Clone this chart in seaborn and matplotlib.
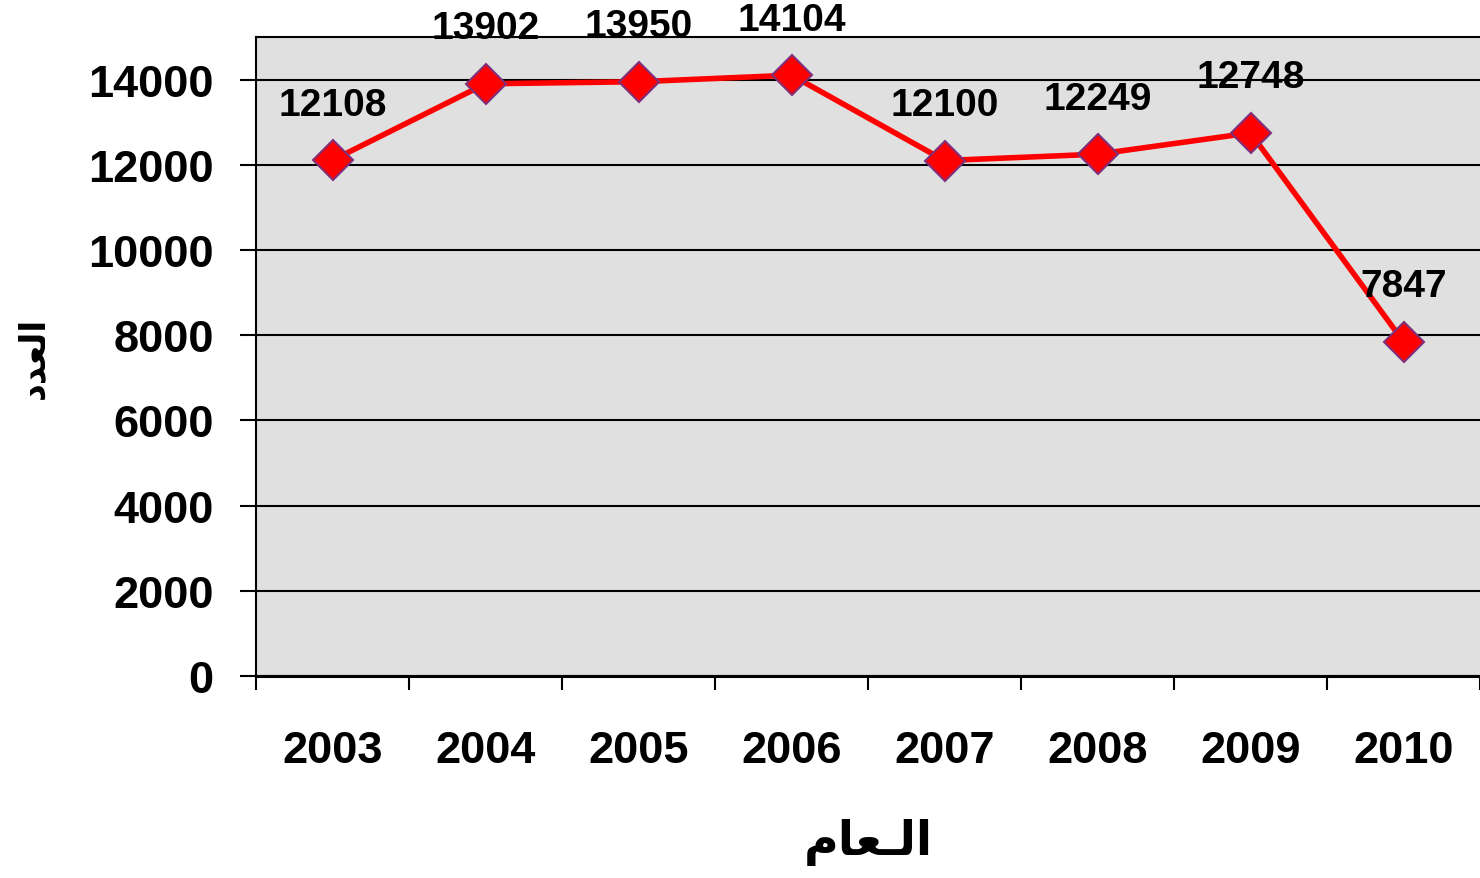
import matplotlib
matplotlib.use("Agg")
import matplotlib.pyplot as plt
import seaborn as sns
import pandas as pd
from matplotlib.ticker import FixedLocator, NullFormatter

years = ['2003', '2004', '2005', '2006', '2007', '2008', '2009', '2010']
counts = [12108, 13902, 13950, 14104, 12100, 12249, 12748, 7847]
y_ticks = [0, 2000, 4000, 6000, 8000, 10000, 12000, 14000]
x_title = 'ﻡﺎﻌـﻟﺍ'   # العـام (shaped, visual order)
y_title = 'ﺩﺪﻌﻟﺍ'    # العدد (shaped, visual order)

sns.set_style("white")
plt.rcParams['font.family'] = ['Liberation Sans', 'DejaVu Sans']
plt.rcParams['font.weight'] = 'bold'
plt.rcParams['text.color'] = 'black'
plt.rcParams['xtick.color'] = 'black'
plt.rcParams['ytick.color'] = 'black'
plt.rcParams['axes.labelcolor'] = 'black'

df = pd.DataFrame({'year': years, 'count': counts})

fig = plt.figure(figsize=(14.8, 8.79), dpi=100)
ax = fig.add_axes([256/1480, 1-677/879, 1-256/1480, (677-38)/879])
ax.set_facecolor('#e0e0e0')

sns.lineplot(data=df, x='year', y='count', ax=ax, color='#ff0000', lw=4,
             marker='D', markersize=20, markerfacecolor='#ff0000',
             markeredgecolor='#80307a', markeredgewidth=1.5, zorder=5)

for i, v in enumerate(counts):
    ax.annotate(str(v), (i, v), xytext=(0, 40), textcoords='offset points',
                ha='center', va='center', fontsize=28, fontweight='bold',
                color='black', zorder=6)

ax.set_xlim(-0.5, 7.5)
ax.set_ylim(0, 15000)
ax.set_yticks(y_ticks)
ax.set_yticklabels([str(t) for t in y_ticks], fontsize=32.5, fontweight='bold', color='black')
ax.set_xticks(range(len(years)))
ax.set_xticklabels(years, fontsize=32.5, fontweight='bold', color='black')
ax.xaxis.set_minor_locator(FixedLocator([i - 0.5 for i in range(len(years) + 1)]))
ax.xaxis.set_minor_formatter(NullFormatter())
ax.tick_params(axis='x', which='both', bottom=True)
ax.tick_params(axis='y', which='both', left=True)
ax.tick_params(axis='x', which='major', length=0, pad=39)
ax.tick_params(axis='x', which='minor', length=10, width=1.5, color='black', direction='out')
ax.tick_params(axis='y', which='major', length=11.5, width=1.5, color='black', pad=19, direction='out')

ax.grid(axis='y', color='black', lw=1.5)
ax.grid(axis='x', visible=False)
ax.set_axisbelow(True)

for s in ['left', 'top', 'bottom']:
    ax.spines[s].set_visible(True)
    ax.spines[s].set_color('black')
    ax.spines[s].set_linewidth(1.5)
ax.spines['bottom'].set_linewidth(2.2)
ax.spines['right'].set_visible(False)

ax.set_xlabel(x_title, fontsize=34, fontweight='bold', family=['DejaVu Sans'], color='black')
ax.set_ylabel(y_title, fontsize=25, fontweight='bold', family=['DejaVu Sans'], color='black')
ax.xaxis.set_label_coords(0.5, -0.222)
ax.yaxis.set_label_coords(-0.168, 0.5)

fig.savefig('out.png', dpi=100)
